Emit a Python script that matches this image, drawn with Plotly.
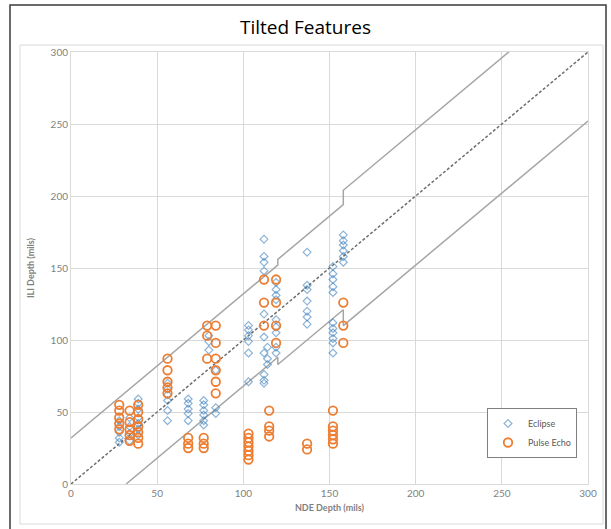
import plotly.graph_objects as go

# ---------------- data ----------------
eclipse_cols = {
    28: [44, 40, 36, 32, 29],
    34: [46, 40, 35, 30],
    39: [59, 56, 52, 46, 42, 38, 34],
    56: [70, 66, 62, 58, 51, 44],
    68: [59, 56, 52, 49, 44],
    77: [58, 55, 51, 48, 44, 41],
    80: [103, 99, 93],
    84: [79, 53, 49],
    103: [110, 107, 103, 99, 91, 71],
    112: [170, 158, 154, 148, 118, 102, 91, 76, 72, 70],
    114: [95, 87, 83],
    119: [140, 135, 131, 128, 114, 109, 105, 95, 91],
    137: [161, 138, 135, 127, 120, 116, 111],
    152: [151, 146, 142, 137, 133, 112, 108, 105, 101, 98, 91],
    158: [173, 169, 166, 162, 158, 154],
}
pulse_cols = {
    28: [55, 51, 46, 42, 38],
    34: [51, 43, 38, 34, 30],
    39: [55, 50, 45, 40, 36, 32, 28],
    56: [87, 79, 71, 67, 63],
    68: [32, 28, 25],
    77: [32, 28, 25],
    79: [110, 103, 87],
    84: [110, 98, 87, 79, 71, 63],
    103: [35, 32, 29, 26, 23, 20, 17],
    112: [142, 126, 110],
    115: [51, 40, 37, 33],
    119: [142, 126, 110, 98],
    137: [28, 24],
    152: [51, 40, 37, 34, 31, 28],
    158: [126, 110, 98],
}
unity_x = [0, 300]
unity_y = [0, 300]
upper_x = [0, 120, 120, 158, 158, 300]
upper_y = [32, 152, 156, 194, 204, 346]
lower_x = [32, 120, 120, 158, 158, 300]
lower_y = [0, 88, 83, 121, 110, 252]
tick_vals = [0, 50, 100, 150, 200, 250, 300]

ecl_x = [x for x, ys in eclipse_cols.items() for _ in ys]
ecl_y = [y for ys in eclipse_cols.values() for y in ys]
pe_x = [x for x, ys in pulse_cols.items() for _ in ys]
pe_y = [y for ys in pulse_cols.values() for y in ys]

fig = go.Figure()
fig.add_trace(go.Scatter(x=upper_x, y=upper_y, mode="lines",
                         line=dict(color="#A6A6A6", width=1.5), showlegend=False, hoverinfo="skip"))
fig.add_trace(go.Scatter(x=lower_x, y=lower_y, mode="lines",
                         line=dict(color="#A6A6A6", width=1.5), showlegend=False, hoverinfo="skip"))
fig.add_trace(go.Scatter(x=unity_x, y=unity_y, mode="lines",
                         line=dict(color="#6E6E6E", width=1.5, dash="3px,2px"),
                         showlegend=False, hoverinfo="skip"))
fig.add_trace(go.Scatter(x=ecl_x, y=ecl_y, mode="markers", name="Eclipse",
                         marker=dict(symbol="diamond-open", size=6,
                                     color="rgba(46,117,182,0.55)",
                                     line=dict(width=1.2, color="rgba(46,117,182,0.55)"))))
fig.add_trace(go.Scatter(x=pe_x, y=pe_y, mode="markers", name="Pulse Echo",
                         marker=dict(symbol="circle-open", size=8.5,
                                     color="#ED7D31",
                                     line=dict(width=1.8, color="#ED7D31"))))

# pixel -> paper helpers (plot area 71..588 x, 52..484 y)
L, R, T, B = 71, 588, 52, 484
def px(p):
    return (p - L) / (R - L)
def py(p):
    return (B - p) / (B - T)

shapes = [
    dict(type="rect", xref="paper", yref="paper", x0=px(10), x1=px(606), y0=py(560), y1=py(5),
         line=dict(color="#3A3A3A", width=1.5), fillcolor="rgba(0,0,0,0)", layer="below"),
    dict(type="rect", xref="paper", yref="paper", x0=px(20), x1=px(603), y0=py(524), y1=py(45),
         line=dict(color="#D9D9D9", width=1), fillcolor="rgba(0,0,0,0)", layer="below"),
]

axis_common = dict(range=[0, 300], tickvals=tick_vals, showgrid=True, gridcolor="#D9D9D9",
                   gridwidth=1, zeroline=False, showline=True, linecolor="#D9D9D9",
                   linewidth=1, mirror=True, ticks="",
                   tickfont=dict(family="Lato", size=10, color="#7F7F7F"))

fig.update_layout(
    width=611, height=529,
    margin=dict(l=L, r=611 - R, t=T, b=529 - B),
    paper_bgcolor="white", plot_bgcolor="white",
    title=dict(text="Tilted Features", x=0.5, xanchor="center", y=1 - 27 / 529,
               yanchor="middle", yref="container",
               font=dict(family="Open Sans", size=19, color="#000000")),
    xaxis=dict(**axis_common,
               title=dict(text="<b>NDE Depth (mils)</b>", standoff=6,
                          font=dict(family="Lato", size=9, color="#7F7F7F"))),
    yaxis=dict(**axis_common,
               title=dict(text="<b>ILI Depth (mils)</b>", standoff=14,
                          font=dict(family="Lato", size=9, color="#7F7F7F"))),
    legend=dict(x=px(487), y=py(408), xanchor="left", yanchor="top",
                bordercolor="#7F7F7F", borderwidth=1, bgcolor="white",
                font=dict(family="Lato", size=9, color="#595959"),
                itemwidth=30, tracegroupgap=2),
    shapes=shapes,
)

fig.write_html("out.html")
